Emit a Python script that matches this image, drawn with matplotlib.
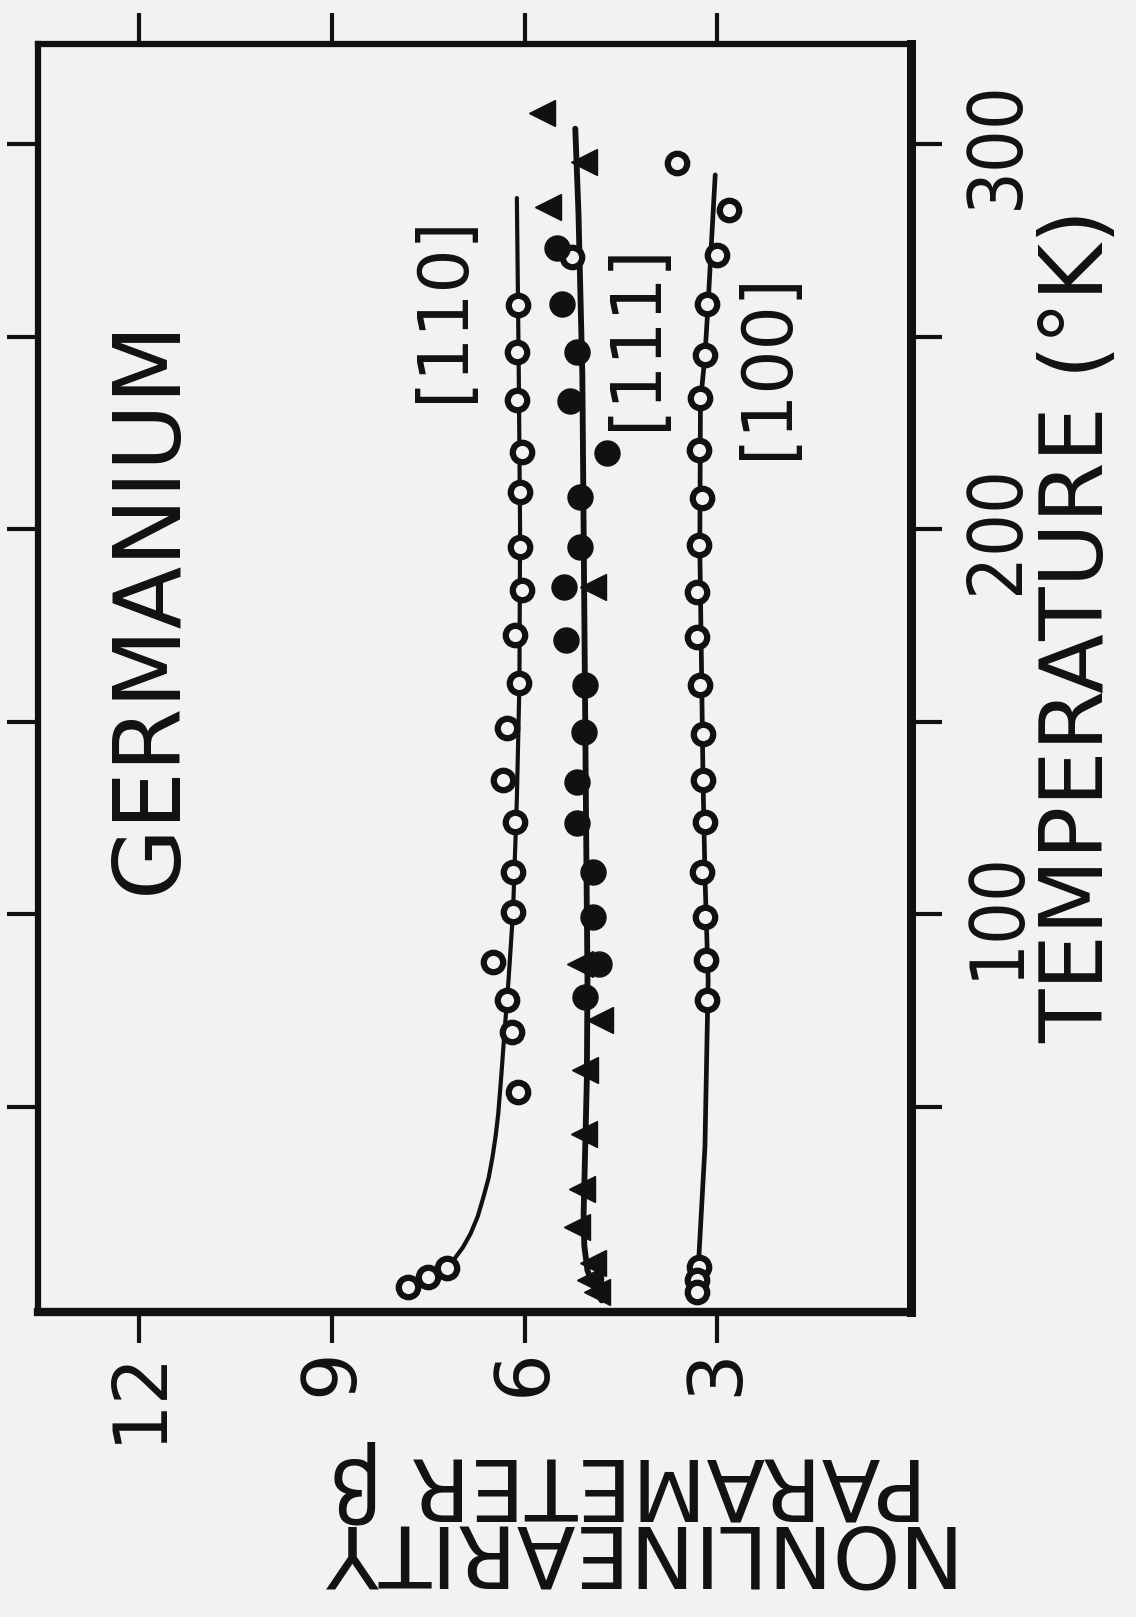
import matplotlib
matplotlib.use("Agg")
import matplotlib.pyplot as plt

# Nonlinearity parameter beta of germanium vs temperature, three crystal directions.
# Temperatures in K, beta dimensionless.

# [110] direction: open circles and the drawn curve
t110_pts = [258.2, 246.0, 233.5, 220.0, 209.6, 195.3, 184.2, 172.5, 160.0, 148.3,
            134.8, 123.9, 110.9, 100.5, 87.5, 77.7, 69.4, 53.8, 8.1, 5.7, 3.1]
b110_pts = [6.10, 6.12, 6.12, 6.04, 6.07, 6.07, 6.04, 6.15, 6.08, 6.27,
            6.33, 6.15, 6.18, 6.18, 6.49, 6.27, 6.19, 6.10, 7.21, 7.50, 7.81]
t110_fit = [10.1, 13.5, 17.1, 21.5, 26.6, 31.5, 36.9, 42.5, 48.2, 58.6, 65.5, 74.2,
            82.9, 100.5, 130.0, 160.0, 200.0, 240.0, 286.0]
b110_fit = [7.11, 6.96, 6.84, 6.73, 6.64, 6.56, 6.50, 6.45, 6.41, 6.36, 6.33, 6.29,
            6.25, 6.18, 6.12, 6.08, 6.07, 6.09, 6.12]

# [111] direction: filled circles, filled triangles and the drawn curve
t111_dots = [272.9, 258.6, 246.1, 233.3, 219.7, 208.4, 195.4, 185.0, 171.2, 159.5,
             147.4, 134.4, 123.6, 111.0, 99.3, 87.2, 78.5]
b111_dots = [5.50, 5.42, 5.19, 5.29, 4.72, 5.13, 5.13, 5.39, 5.35, 5.06,
             5.08, 5.18, 5.18, 4.93, 4.93, 4.84, 5.06]
t111_tri = [308.0, 295.4, 283.7, 185.0, 87.2, 72.5, 59.5, 43.0, 28.7, 18.8, 9.3, 4.9, 2.0]
b111_tri = [5.73, 5.07, 5.63, 4.93, 5.13, 4.82, 5.06, 5.08, 5.11, 5.19, 4.93, 4.98, 4.87]
t111_open = [270.7]
b111_open = [5.26]
t111_fit = [-0.3, 3.5, 7.5, 14.0, 22.3, 43.0, 57.0, 83.0, 120.0, 160.0, 200.0, 240.0,
            282.0, 304.0]
b111_fit = [4.80, 4.93, 5.02, 5.07, 5.08, 5.05, 5.03, 5.02, 5.04, 5.06, 5.08, 5.10,
            5.16, 5.21]

# [100] direction: open circles and the drawn curve
t100_pts = [295.0, 282.9, 271.2, 258.6, 245.2, 234.0, 220.5, 208.0, 195.8, 183.7,
            172.0, 159.5, 146.9, 134.8, 124.0, 111.0, 99.3, 88.0, 77.7, 8.4, 4.9, 1.9]
b100_pts = [3.63, 2.82, 3.00, 3.16, 3.19, 3.26, 3.29, 3.24, 3.29, 3.32,
            3.32, 3.26, 3.22, 3.22, 3.19, 3.24, 3.19, 3.17, 3.16, 3.29, 3.32, 3.32]
t100_fit = [3.0, 9.3, 39.6, 82.9, 110.0, 135.0, 160.0, 195.0, 233.0, 245.0, 258.6,
            271.0, 292.0]
b100_fit = [3.30, 3.29, 3.19, 3.14, 3.19, 3.22, 3.24, 3.27, 3.26, 3.19, 3.14,
            3.10, 3.03]

beta_ticks = [3, 6, 9, 12]
beta_ticklabels = ["3", "6", "9", "12"]
temp_ticks = [50, 100, 150, 200, 250, 300]
temp_ticklabels = ["", "100", "", "200", "", "300"]

INK = "#111111"
PAPER = "#f2f2f2"
FONT = ["DejaVu Sans"]

plt.rcParams["font.family"] = FONT

W, H = 1136, 1617
BOX_L, BOX_R, BOX_T, BOX_B = 38, 911, 44, 1312
fig = plt.figure(figsize=(W / 100, H / 100), dpi=100, facecolor=PAPER)
ax = fig.add_axes([BOX_L / W, 1 - BOX_B / H, (BOX_R - BOX_L) / W, (BOX_B - BOX_T) / H],
                  facecolor=PAPER)

# beta runs right-to-left, temperature bottom-to-top
ax.set_xlim(13.58, -0.02)
ax.set_ylim(-3.3, 326)

# curves
ax.plot(b110_fit, t110_fit, color=INK, lw=3.0, zorder=2, solid_capstyle="round")
ax.plot(b111_fit, t111_fit, color=INK, lw=4.2, zorder=2, solid_capstyle="round")
ax.plot(b100_fit, t100_fit, color=INK, lw=3.4, zorder=2, solid_capstyle="round")

# markers
ax.plot(b110_pts, t110_pts, "o", ms=14, mfc=PAPER, mec=INK, mew=4.5, zorder=4)
ax.plot(b100_pts, t100_pts, "o", ms=14, mfc=PAPER, mec=INK, mew=4.5, zorder=4)
ax.plot(b111_open, t111_open, "o", ms=14, mfc=PAPER, mec=INK, mew=4.5, zorder=3)
ax.plot(b111_dots, t111_dots, "o", ms=18, mfc=INK, mec=INK, mew=1, zorder=4)
ax.plot(b111_tri, t111_tri, "<", ms=19, mfc=INK, mec=INK, mew=1, zorder=4)

# frame and ticks
for side, lw in (("left", 4.5), ("top", 4.5), ("right", 6.5), ("bottom", 6.0)):
    ax.spines[side].set_linewidth(lw)
    ax.spines[side].set_color(INK)

ax.set_xticks(beta_ticks)
ax.set_xticklabels(beta_ticklabels, rotation=90, fontsize=54, va="top", ha="center",
                   color=INK)
ax.set_yticks(temp_ticks)
ax.set_yticklabels(temp_ticklabels, rotation=90, fontsize=54, ha="left", va="center",
                   color=INK, fontstretch="condensed")
ax.tick_params(axis="both", which="major", direction="out", length=22, width=3,
               color=INK, top=True, bottom=True, left=True, right=True,
               labeltop=False, labelbottom=True, labelleft=False, labelright=True)
ax.tick_params(axis="x", pad=4)
ax.tick_params(axis="y", pad=14)

# in-plot labels
ax.text(11.83, 180.0, "GERMANIUM", rotation=90, fontsize=66, ha="center", va="center",
        color=INK)
ax.text(7.27, 257.4, "[110]", rotation=90, fontsize=50, ha="center", va="center",
        color=INK)
ax.text(4.26, 250.1, "[111]", rotation=90, fontsize=50, ha="center", va="center",
        color=INK)
ax.text(2.22, 242.5, "[100]", rotation=90, fontsize=50, ha="center", va="center",
        color=INK)

# axis titles
fig.text(1079 / W, 1 - 626 / H, "TEMPERATURE (°K)", rotation=90, fontsize=63,
         ha="center", va="center", color=INK)
fig.text(628 / W, 1 - 1515 / H, "NONLINEARITY\nPARAMETER β", rotation=180, fontsize=62,
         ha="center", va="center", multialignment="center", linespacing=0.74,
         color=INK)

fig.savefig("out.png", dpi=100, facecolor=PAPER)
